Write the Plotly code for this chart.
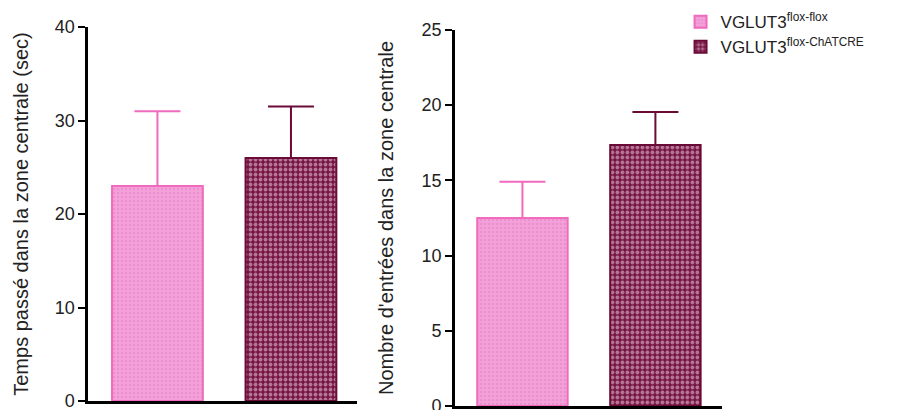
import plotly.graph_objects as go

groups = ["VGLUT3<sup>flox-flox</sup>", "VGLUT3<sup>flox-ChATCRE</sup>"]
positions = [0, 1]
time_mean = [23.0, 26.0]
time_sem = [8.0, 5.5]
entries_mean = [12.5, 17.35]
entries_sem = [2.4, 2.2]

fill_bg = ["#f6a0da", "#761443"]
fill_fg = ["#d77fbf", "#f6dcea"]
pat_size = [4, 5]
pat_solid = [0.3, 0.45]
line_col = ["#f06abd", "#6a0a36"]

fig = go.Figure()
for i, g in enumerate(groups):
    for ax, means, sems in (("", time_mean, time_sem), ("2", entries_mean, entries_sem)):
        fig.add_trace(go.Bar(
            x=[positions[i]], y=[means[i]], name=g,
            xaxis="x" + ax, yaxis="y" + ax,
            width=0.68,
            showlegend=(ax == ""),
            legendgroup=g,
            marker=dict(color=fill_bg[i],
                        line=dict(color=line_col[i], width=2),
                        pattern=dict(shape=".", bgcolor=fill_bg[i], fgcolor=fill_fg[i],
                                     size=pat_size[i], solidity=pat_solid[i])),
            error_y=dict(type="data", symmetric=False, array=[sems[i]], arrayminus=[0],
                         color=line_col[i], thickness=2, width=23),
        ))

font = dict(family="Liberation Sans, Arial, sans-serif", size=18, color="#222")
title_font = dict(font, size=20)
yax = dict(showgrid=False, zeroline=False, showline=True, linecolor="black", linewidth=2.5,
           ticks="outside", ticklen=7, tickwidth=2, tickcolor="black", tickfont=font,
           title_font=title_font, automargin=False, ticklabeloverflow="allow")
xax = dict(showgrid=False, zeroline=False, showline=True, linecolor="black", linewidth=2.5,
           showticklabels=False, ticks="", automargin=False)

fig.update_layout(
    width=899, height=410,
    margin=dict(l=0, r=0, t=0, b=0, autoexpand=False),
    plot_bgcolor="white", paper_bgcolor="white",
    font=font,
    barmode="overlay",
    xaxis=dict(xax, domain=[0.0979, 0.397], range=[-0.52, 1.494]),
    yaxis=dict(yax, domain=[0.022, 0.934], range=[0, 40], tickvals=[0, 10, 20, 30, 40],
               title=dict(text="Temps passé dans la zone centrale (sec)", standoff=21)),
    xaxis2=dict(xax, domain=[0.506, 0.803], range=[-0.508, 1.5], anchor="y2"),
    yaxis2=dict(yax, domain=[0.0098, 0.927], range=[0, 25], tickvals=[0, 5, 10, 15, 20, 25],
                anchor="x2",
                title=dict(text="Nombre d'entrées dans la zone centrale", standoff=23)),
    legend=dict(x=0.757, y=0.99, xanchor="left", yanchor="top", font=dict(font, size=17),
                bgcolor="rgba(0,0,0,0)", tracegroupgap=0),
    showlegend=True,
)

fig.write_html("out.html", config={"displayModeBar": False},
               post_script="document.body.style.margin='0';document.body.style.overflow='hidden';")
